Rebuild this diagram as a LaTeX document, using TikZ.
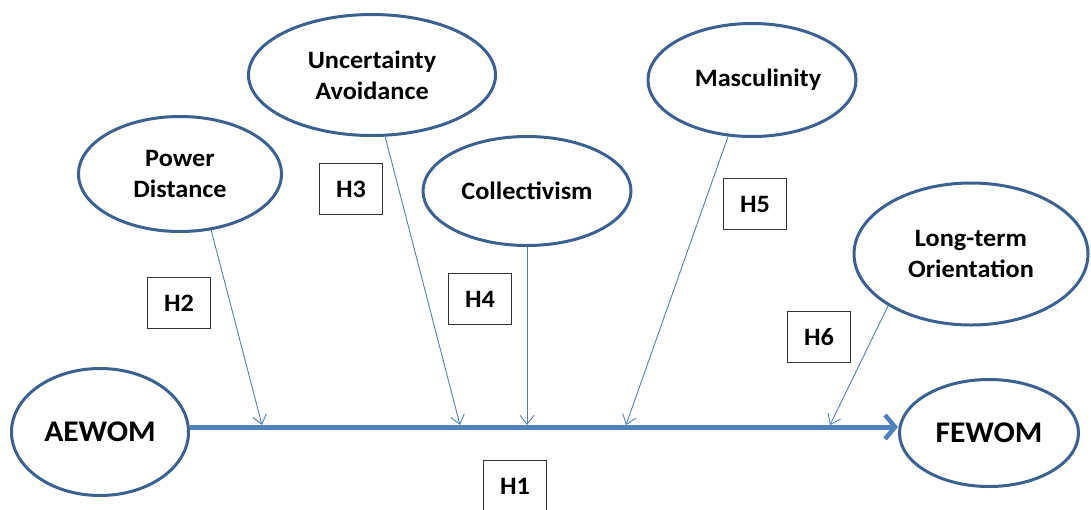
\documentclass[tikz,border=0pt]{standalone}
\usepackage{fontspec}
\setmainfont{Carlito}[FakeStretch=1.05]
\usetikzlibrary{shapes.geometric,arrows.meta}
\definecolor{edge}{HTML}{3B6190}
\definecolor{arr}{HTML}{4F81BD}
\tikzset{
  cons/.style={ellipse,draw=edge,line width=3pt,inner sep=0pt,align=center,font=\fontsize{25}{31}\selectfont\bfseries},
  hbox/.style={draw=black!80,line width=1.2pt,minimum width=63pt,minimum height=51pt,inner sep=0pt,font=\fontsize{25}{30}\selectfont\bfseries},
  thin/.style={arr,line width=0.9pt,-{Straight Barb[length=9pt,width=14pt]}},
  main/.style={arr,line width=5pt,-{Straight Barb[length=10pt,width=24pt,line width=4.5pt]}}
}
\begin{document}
\begin{tikzpicture}[x=1pt,y=-1pt]
\useasboundingbox (0,0) rectangle (1091,509);
\fill[white] (0,0) rectangle (1091,509);
\node[cons,minimum width=177pt,minimum height=127pt,font=\fontsize{30}{36}\selectfont\bfseries] (ae) at (100,432) {AEWOM};
\node[cons,minimum width=179pt,minimum height=107pt,font=\fontsize{30}{36}\selectfont\bfseries] (fe) at (989,433) {FEWOM};
\node[cons,minimum width=203pt,minimum height=115pt] (pd) at (180,174) {Power\\Distance};
\node[cons,minimum width=247pt,minimum height=121pt] (ua) at (372,75) {Uncertainty\\Avoidance};
\node[cons,minimum width=208pt,minimum height=109pt] (co) at (527,191) {Collectivism};
\node[cons,minimum width=208pt,minimum height=113pt] (ma) at (752,80) {\hspace*{12pt}Masculinity};
\node[cons,minimum width=234pt,minimum height=142pt] (lt) at (971,254) {Long-term\\Orientation};
\node[hbox] (h1) at (515,486) {H1};
\node[hbox] (h2) at (179,303) {H2};
\node[hbox] (h3) at (351,189) {H3};
\node[hbox] (h4) at (480,299) {H4};
\node[hbox] (h5) at (755,204) {H5};
\node[hbox] (h6) at (819,337) {H6};
\coordinate (t2) at (262,425);
\coordinate (t3) at (460,425);
\coordinate (t4) at (527,425);
\coordinate (t5) at (626,425);
\coordinate (t6) at (830,425);
\draw[main] (ae.east |- 0,427) -- (fe.west |- 0,427);
\draw[thin] (pd.-61) -- (t2);
\draw[thin] (ua.-78) -- (t3);
\draw[thin] (co.south) -- (t4);
\draw[thin] (ma.-113) -- (t5);
\draw[thin] (lt.-148) -- (t6);
\end{tikzpicture}
\end{document}
